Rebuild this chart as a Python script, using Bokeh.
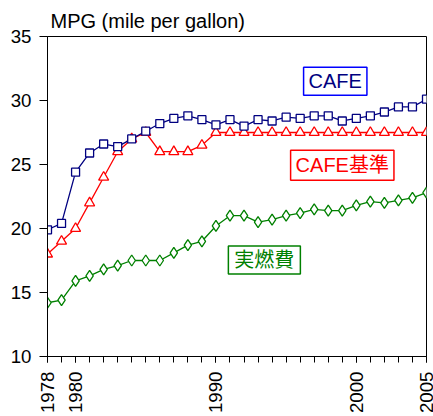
import math
from bokeh.plotting import figure
from bokeh.models import Range1d, FixedTicker, Label, ColumnDataSource
from bokeh.embed import file_html
from bokeh.resources import INLINE

years = list(range(1978, 2006))
cafe_actual = [19.9, 20.4, 24.4, 25.9, 26.6, 26.4, 27.0, 27.6, 28.2, 28.6, 28.8, 28.5,
               28.1, 28.5, 28.0, 28.5, 28.4, 28.7, 28.6, 28.8, 28.8, 28.4, 28.6, 28.8,
               29.1, 29.5, 29.5, 30.1]
cafe_standard = [18.0, 19.0, 20.0, 22.0, 24.0, 26.0, 27.0, 27.5, 26.0, 26.0, 26.0, 26.5,
                 27.5, 27.5, 27.5, 27.5, 27.5, 27.5, 27.5, 27.5, 27.5, 27.5, 27.5, 27.5,
                 27.5, 27.5, 27.5, 27.5]
real_mpg = [14.2, 14.4, 15.9, 16.3, 16.8, 17.1, 17.5, 17.5, 17.5, 18.1, 18.7, 19.0,
            20.2, 21.0, 21.0, 20.5, 20.7, 21.0, 21.2, 21.5, 21.4, 21.4, 21.8, 22.1,
            22.0, 22.2, 22.4, 22.8]
x_tick_labels = [1978, 1980, 1990, 2000, 2005]
y_ticks = [10, 15, 20, 25, 30, 35]
title_text = "MPG (mile per gallon)"
series_names = ["CAFE", "CAFE基準", "実燃費"]

FONT = "Liberation Sans"
CJK = "Liberation Sans, Noto Sans CJK JP"
FS = "14pt"
FS_BIG = "15pt"

src = ColumnDataSource(dict(x=years, a=cafe_actual, s=cafe_standard, r=real_mpg))

p = figure(width=433, height=416, output_backend="svg", toolbar_location=None,
           x_range=Range1d(1978, 2005), y_range=Range1d(10, 35),
           min_border_left=47, min_border_right=7, min_border_top=36, min_border_bottom=58)
p.background_fill_color = "white"
p.border_fill_color = "white"
p.outline_line_color = "black"
p.outline_line_width = 1
p.xgrid.visible = False
p.ygrid.visible = False

p.title.text = title_text
p.title.align = "left"
p.title.offset = 3
p.title.standoff = 9
p.title.text_font = FONT
p.title.text_font_size = FS_BIG
p.title.text_font_style = "normal"
p.title.text_color = "black"

# series
p.line("x", "s", source=src, line_color="#FF0000", line_width=1.3)
p.scatter("x", "s", source=src, marker="triangle", size=10, fill_color="white",
          line_color="#FF0000", line_width=1.3)
p.line("x", "a", source=src, line_color="#000080", line_width=1.3)
p.scatter("x", "a", source=src, marker="square", size=8, fill_color="white",
          line_color="#000080", line_width=1.3)
p.line("x", "r", source=src, line_color="#008000", line_width=1.3)
p.scatter("x", "r", source=src, marker="diamond", size=11, fill_color="white",
          line_color="#008000", line_width=1.3)

# axes
xa = p.xaxis[0]
xa.ticker = FixedTicker(ticks=x_tick_labels, minor_ticks=years)
xa.major_label_orientation = math.pi / 2
xa.major_tick_out = 6
xa.major_tick_in = 0
xa.minor_tick_out = 6
xa.minor_tick_in = 0
xa.major_label_standoff = 9
xa.major_label_text_font = FONT
xa.major_label_text_font_size = FS
xa.major_label_text_color = "black"
xa.axis_line_color = "black"
xa.major_tick_line_color = "black"
xa.minor_tick_line_color = "black"

ya = p.yaxis[0]
ya.ticker = FixedTicker(ticks=y_ticks, minor_ticks=[])
ya.major_tick_out = 8
ya.major_tick_in = 0
ya.minor_tick_out = 0
ya.minor_tick_in = 0
ya.major_label_standoff = 8
ya.major_label_text_font = FONT
ya.major_label_text_font_size = FS
ya.major_label_text_color = "black"
ya.axis_line_color = "black"
ya.major_tick_line_color = "black"

# boxed series labels
def boxed(x, y, text, tc, bc, pad):
    return Label(x=x, y=y, text=text, text_align="center", text_baseline="middle",
                 text_font=CJK, text_font_size=FS_BIG, text_color=tc,
                 background_fill_color="white", border_line_color=bc,
                 border_line_width=1.5, padding=pad)

p.add_layout(boxed(1998.5, 31.5, series_names[0], "#000080", "#0000FF", (5, 3)))
p.add_layout(boxed(1999.0, 24.95, series_names[1], "#FF0000", "#FF0000", (5, 4)))
p.add_layout(boxed(1993.45, 17.53, series_names[2], "#008000", "#008000", (6, 3)))

open("out.html", "w").write(file_html(p, INLINE))
